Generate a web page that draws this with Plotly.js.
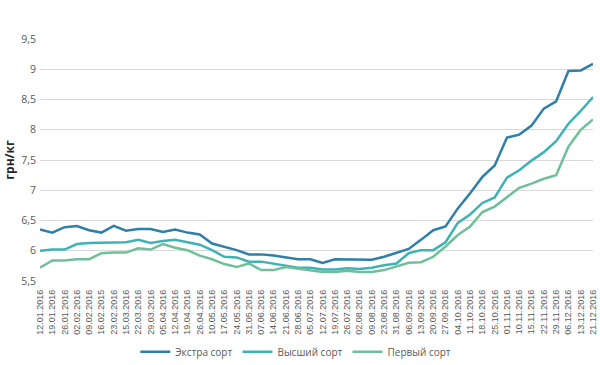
<!DOCTYPE html>
<html>
<head>
<meta charset="utf-8">
<script src="https://cdn.plot.ly/plotly-3.0.1.min.js"></script>
<style>html,body{margin:0;padding:0;background:#fff;}#chart{width:600px;height:365px;}</style>
</head>
<body>
<div id="chart"></div>
<script>
const dates = ["12.01.2016","19.01.2016","26.01.2016","02.02.2016","09.02.2016","16.02.2015","23.02.2016","15.03.2016","22.03.2016","29.03.2016","05.04.2016","12.04.2016","19.04.2016","26.04.2016","10.05.2016","17.05.2016","24.05.2016","31.05.2016","07.06.2016","14.06.2016","21.06.2016","28.06.2016","05.07.2016","12.07.2016","19.07.2016","26.07.2016","02.08.2016","09.08.2016","23.08.2016","31.08.2016","06.09.2016","13.09.2016","20.09.2016","27.09.2016","04.10.2016","11.10.2016","18.10.2016","25.10.2016","01.11.2016","10.11.2016","15.11.2016","22.11.2016","29.11.2016","06.12.2016","13.12.2016","21.12.2016"];

const extra = [6.35,6.30,6.39,6.41,6.34,6.30,6.41,6.33,6.36,6.36,6.31,6.35,6.30,6.27,6.12,6.07,6.01,5.94,5.94,5.92,5.89,5.86,5.86,5.80,5.86,5.86,5.85,5.85,5.90,5.96,6.03,6.18,6.34,6.40,6.70,6.95,7.22,7.41,7.87,7.92,8.07,8.35,8.47,8.97,8.98,9.09];

const highest = [6.00,6.02,6.02,6.11,6.13,6.13,6.14,6.14,6.18,6.13,6.16,6.18,6.14,6.10,6.01,5.90,5.89,5.82,5.82,5.79,5.75,5.72,5.72,5.69,5.69,5.71,5.70,5.72,5.76,5.79,5.96,6.01,6.01,6.14,6.46,6.60,6.79,6.88,7.21,7.33,7.49,7.63,7.81,8.10,8.31,8.54];

const first = [5.72,5.84,5.84,5.86,5.86,5.96,5.97,5.97,6.04,6.02,6.11,6.05,6.01,5.92,5.86,5.78,5.73,5.79,5.68,5.68,5.73,5.70,5.67,5.65,5.65,5.67,5.65,5.65,5.68,5.74,5.80,5.81,5.90,6.07,6.26,6.40,6.64,6.73,6.89,7.04,7.11,7.19,7.25,7.72,8.00,8.17];

const seriesNames = ["Экстра сорт","Высший сорт","Первый сорт"];
const seriesColors = ["#2e80a8","#3fb2b5","#6fbf9b"];
const yTicks = [5.5,6,6.5,7,7.5,8,8.5,9,9.5];

const traces = [extra, highest, first].map((vals, k) => ({
  type: "scatter",
  mode: "lines",
  x: dates,
  y: vals,
  name: seriesNames[k],
  line: {color: seriesColors[k], width: 2.5}
}));

const layout = {
  width: 600, height: 365,
  margin: {l: 40, r: 7, t: 39, b: 84},
  paper_bgcolor: "#ffffff",
  plot_bgcolor: "#ffffff",
  separators: ", ",
  font: {family: "Open Sans, Liberation Sans, sans-serif", color: "#595959"},
  showlegend: true,
  legend: {
    orientation: "h",
    xref: "container", yref: "container",
    x: 0.493, xanchor: "center",
    y: 0.036, yanchor: "middle",
    font: {size: 10, color: "#595959"},
    itemwidth: 30,
    traceorder: "normal"
  },
  xaxis: {
    type: "category",
    automargin: false,
    tickangle: -90,
    tickfont: {size: 9, color: "#595959", family: "Liberation Sans, sans-serif"},
    ticklabelstandoff: 6,
    showgrid: false,
    showline: false,
    zeroline: false,
    ticks: "",
    fixedrange: true
  },
  yaxis: {
    range: [5.5, 9.5],
    automargin: false,
    tickvals: yTicks,
    tickformat: ".1~f",
    tickfont: {size: 10.5, color: "#595959"},
    ticklabelstandoff: 3,
    showgrid: true,
    gridcolor: "#d9d9d9",
    gridwidth: 1,
    zeroline: false,
    showline: false,
    ticks: "",
    title: {text: "грн/кг", font: {size: 12, color: "#262626", family: "Open Sans, sans-serif", weight: "bold"}, standoff: 4},
    fixedrange: true
  }
};

Plotly.newPlot("chart", traces, layout, {displayModeBar: false, staticPlot: true});
</script>
</body>
</html>
